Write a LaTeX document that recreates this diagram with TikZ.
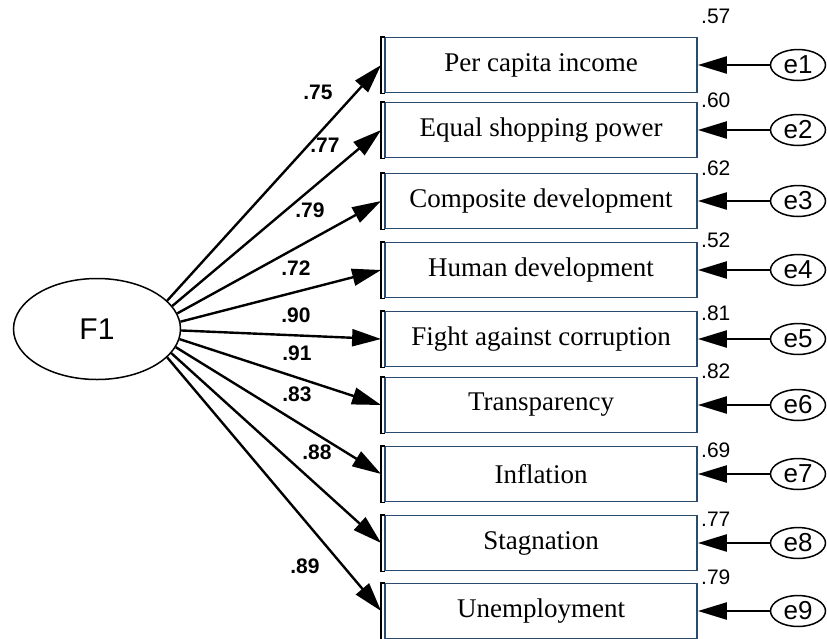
\documentclass[tikz,border=0pt]{standalone}
\usepackage{fontspec}
\setmainfont{Liberation Serif}
\newfontfamily\arialf{Liberation Sans}
\usetikzlibrary{arrows.meta,shapes.geometric}
\definecolor{boxblue}{HTML}{2B4A6F}
\begin{document}
\begin{tikzpicture}[x=1pt,y=-1pt,
  obs/.style={draw=boxblue,line width=1.8pt,minimum width=312pt,minimum height=55pt,inner sep=0pt,font=\fontsize{27}{32}\selectfont},
  errnode/.style={draw,ellipse,line width=1.5pt,minimum width=55pt,minimum height=31pt,inner sep=0pt,font=\arialf\fontsize{26}{30}\selectfont},
  latent/.style={draw,ellipse,line width=1.5pt,minimum width=167pt,minimum height=101pt,inner sep=0pt,font=\arialf\fontsize{30}{34}\selectfont},
  arr/.style={line width=2.4pt,-{Triangle[length=29pt,width=17pt]}},
  brk/.style={line width=1.8pt,black},
  coef/.style={font=\arialf\bfseries\fontsize{21}{24}\selectfont,inner sep=0pt},
  rsq/.style={font=\arialf\fontsize{21}{24}\selectfont,inner sep=0pt,anchor=west}]
\useasboundingbox (0,0) rectangle (827,638);
\node[latent] (F1) at (97,329) {F1};
\foreach \i/\y/\t/\a in {1/65/Per capita income/22,2/130/Equal shopping power/17,3/201/Composite development/11,4/270/Human development/5,5/339/Fight against corruption/-1.5,6/405/Transparency/-7.5,7/474/Inflation/-13.5,8/543/Stagnation/-18.5,9/611/Unemployment/-22.5}{
  \node[obs] (b\i) at (541,\y) {\t};
  \draw[brk] ([xshift=1pt]b\i.north west) -| ([xshift=-3pt]b\i.south west) -- ([xshift=1pt]b\i.south west);
  \node[errnode] (e\i) at (798,\y) {e\i};
  \draw[arr] (e\i) -- (b\i.east);
  \draw[arr] (F1.\a) -- ([xshift=-3pt]b\i.west);
}
\foreach \i/\x/\y/\t in {1/318/92/.75,2/325/145/.77,3/310/210/.79,4/296/268/.72,5/296/315/.90,6/297/353/.91,7/297/394/.83,8/317/452/.88,9/305/566/.89}{
  \node[coef] (c\i) at (\x,\y) {\t};
}
\foreach \i/\y/\t in {1/16/.57,2/100/.60,3/168/.62,4/240/.52,5/313/.81,6/371/.82,7/450/.69,8/519/.77,9/577/.79}{
  \node[rsq] (r\i) at (701,\y) {\t};
}
\end{tikzpicture}
\end{document}
